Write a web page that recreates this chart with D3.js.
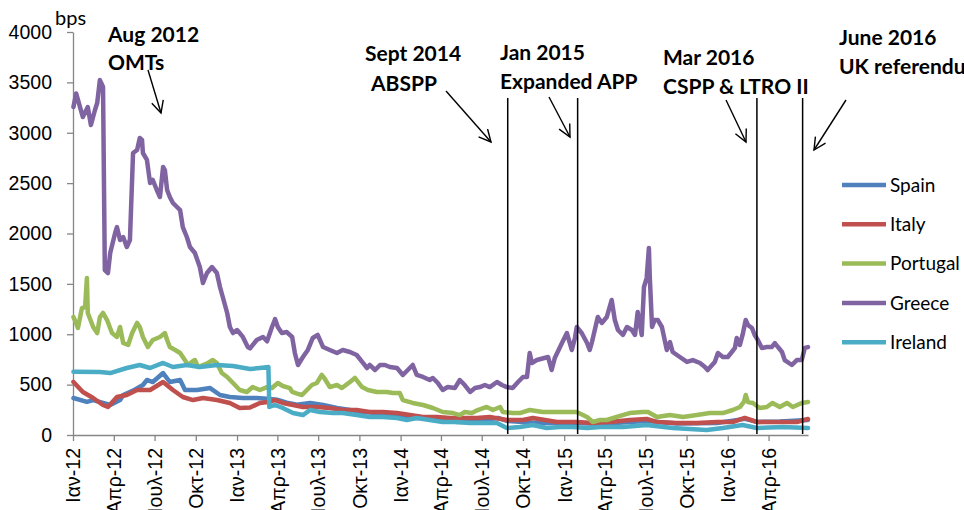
<!DOCTYPE html>
<html lang="el">
<head>
<meta charset="UTF-8">
<title>Spreads vs Bund, 2012-2016</title>
<script src="https://d3js.org/d3.v7.min.js"></script>
<style>
  body { margin: 0; background: #fff; }
  svg { font-family: Lato, "Open Sans", sans-serif; }
  .axis path, .axis line { stroke: #868686; stroke-width: 1.3; }
  .axis text { fill: #000; font-size: 19.5px; }
  .note { font-weight: bold; font-size: 21px; fill: #000; }
</style>
</head>
<body>
<div id="chart"></div>
<script>
// month abbreviations used for the x tick labels
const monthsGr = ['Ιαν','Φεβ','Μαρ','Απρ','Μαϊ','Ιουν','Ιουλ','Αυγ','Σεπ','Οκτ','Νοε','Δεκ'];
const yTicks = [0, 500, 1000, 1500, 2000, 2500, 3000, 3500, 4000];
const countries = ['Spain', 'Italy', 'Portugal', 'Greece', 'Ireland'];
const colors = ['#4F81BD', '#C0504D', '#9BBB59', '#8064A2', '#4BACC6'];

// spreads in bps
const spain = [["2012-01-02",367],["2012-02-01",328],["2012-02-15",347],["2012-03-08",318],["2012-03-24",298],["2012-04-15",347],["2012-04-22",397],["2012-05-14",440],["2012-06-05",496],["2012-06-14",546],["2012-06-27",526],["2012-07-20",615],["2012-08-04",526],["2012-08-27",546],["2012-09-07",447],["2012-10-04",447],["2012-11-02",466],["2012-11-24",397],["2012-12-16",377],["2013-01-14",367],["2013-02-14",367],["2013-03-09",360],["2013-03-31",350],["2013-04-22",320],["2013-05-15",300],["2013-06-13",318],["2013-07-12",298],["2013-08-12",268],["2013-09-10",248],["2013-10-09",228],["2013-11-09",218],["2013-12-08",198],["2014-01-06",179],["2014-02-06",169],["2014-03-07",169],["2014-04-05",149],["2014-05-07",129],["2014-06-05",129],["2014-07-04",149],["2014-08-06",169],["2014-08-26",140],["2014-10-01",130],["2014-11-08",120],["2014-12-16",119],["2015-01-29",119],["2015-03-22",110],["2015-05-27",130],["2015-07-04",140],["2015-09-09",115],["2015-12-08",120],["2016-02-08",160],["2016-03-06",130],["2016-04-26",135],["2016-06-28",150]];

const italy = [["2012-01-02",526],["2012-01-23",427],["2012-02-15",367],["2012-03-08",298],["2012-03-19",278],["2012-04-08",377],["2012-04-30",397],["2012-05-23",447],["2012-06-21",447],["2012-07-20",526],["2012-08-11",447],["2012-09-02",377],["2012-09-25",347],["2012-10-17",367],["2012-11-17",347],["2012-12-16",318],["2013-01-07",268],["2013-01-30",273],["2013-02-21",318],["2013-03-11",328],["2013-03-27",347],["2013-04-13",318],["2013-05-06",298],["2013-05-28",278],["2013-06-28",278],["2013-07-27",268],["2013-08-25",248],["2013-09-25",248],["2013-10-24",228],["2013-11-22",228],["2013-12-24",218],["2014-01-22",198],["2014-02-20",179],["2014-03-23",179],["2014-04-21",169],["2014-05-20",169],["2014-06-20",169],["2014-07-19",179],["2014-08-26",149],["2014-10-01",149],["2014-10-23",169],["2014-12-16",129],["2015-01-29",129],["2015-03-06",119],["2015-04-13",129],["2015-05-27",149],["2015-07-04",159],["2015-07-27",129],["2015-09-09",119],["2015-10-24",119],["2015-12-08",129],["2016-01-12",129],["2016-02-08",169],["2016-03-06",129],["2016-04-19",129],["2016-06-03",129],["2016-06-28",159]];

const portugal = [["2012-01-02",1171],["2012-01-05",1141],["2012-01-12",1062],["2012-01-21",1260],["2012-01-28",1270],["2012-02-01",1558],["2012-02-03",1211],["2012-02-15",1072],["2012-02-24",1012],["2012-03-01",1171],["2012-03-08",1211],["2012-03-17",1141],["2012-03-28",1012],["2012-04-08",973],["2012-04-15",1072],["2012-04-22",913],["2012-05-03",893],["2012-05-12",1012],["2012-05-23",1112],["2012-05-29",1072],["2012-06-05",973],["2012-06-16",873],["2012-06-27",943],["2012-07-13",973],["2012-07-24",1012],["2012-07-29",943],["2012-08-04",873],["2012-08-16",844],["2012-08-27",814],["2012-09-02",774],["2012-09-14",695],["2012-09-22",725],["2012-09-29",744],["2012-10-06",675],["2012-10-17",695],["2012-10-28",715],["2012-11-08",744],["2012-11-17",715],["2012-11-28",615],["2012-12-10",576],["2012-12-23",516],["2013-01-07",447],["2013-01-23",427],["2013-02-05",476],["2013-02-21",447],["2013-03-09",476],["2013-03-20",466],["2013-04-02",516],["2013-04-13",486],["2013-04-29",466],["2013-05-04",427],["2013-05-15",410],["2013-05-26",397],["2013-06-06",447],["2013-06-17",496],["2013-06-28",516],["2013-07-09",596],["2013-07-16",556],["2013-07-27",476],["2013-08-12",496],["2013-08-23",466],["2013-09-10",526],["2013-09-21",566],["2013-10-07",476],["2013-10-20",447],["2013-11-09",427],["2013-12-01",427],["2013-12-15",417],["2013-12-30",417],["2014-01-06",347],["2014-01-28",318],["2014-02-20",298],["2014-03-14",268],["2014-04-05",228],["2014-04-28",218],["2014-05-13",198],["2014-05-24",228],["2014-06-09",218],["2014-06-22",248],["2014-07-12",278],["2014-07-26",248],["2014-08-11",278],["2014-08-17",228],["2014-09-08",218],["2014-09-24",218],["2014-10-16",248],["2014-11-14",228],["2014-12-16",228],["2015-01-29",228],["2015-02-21",179],["2015-03-06",129],["2015-03-22",149],["2015-04-06",149],["2015-04-28",179],["2015-05-27",218],["2015-06-25",228],["2015-07-07",228],["2015-07-27",179],["2015-08-25",198],["2015-09-23",179],["2015-10-24",198],["2015-11-22",218],["2015-12-21",218],["2016-01-12",248],["2016-01-28",278],["2016-02-06",328],["2016-02-10",397],["2016-02-15",328],["2016-02-26",318],["2016-03-12",268],["2016-03-28",278],["2016-04-10",318],["2016-04-26",278],["2016-05-12",318],["2016-05-25",278],["2016-06-14",318],["2016-06-28",328]];

const greece = [["2012-01-02",3255],["2012-01-08",3390],["2012-01-17",3250],["2012-01-23",3156],["2012-02-03",3255],["2012-02-10",3077],["2012-02-19",3226],["2012-02-24",3295],["2012-03-01",3523],["2012-03-06",3474],["2012-03-08",3454],["2012-03-12",1637],["2012-03-19",1608],["2012-03-24",1806],["2012-04-04",2005],["2012-04-08",2064],["2012-04-15",1935],["2012-04-22",1965],["2012-04-30",1866],["2012-05-07",1935],["2012-05-14",2799],["2012-05-23",2829],["2012-05-29",2948],["2012-06-03",2928],["2012-06-05",2799],["2012-06-14",2730],["2012-06-21",2501],["2012-06-27",2531],["2012-07-06",2432],["2012-07-13",2362],["2012-07-20",2660],["2012-07-24",2630],["2012-07-29",2432],["2012-08-04",2362],["2012-08-11",2303],["2012-08-20",2263],["2012-08-27",2233],["2012-09-02",2064],["2012-09-11",1965],["2012-09-18",1866],["2012-09-29",1806],["2012-10-10",1667],["2012-10-17",1509],["2012-10-26",1608],["2012-11-06",1667],["2012-11-17",1608],["2012-11-24",1469],["2012-12-10",1211],["2012-12-16",1072],["2012-12-23",1012],["2013-01-01",1042],["2013-01-07",1012],["2013-01-14",973],["2013-01-25",873],["2013-01-30",860],["2013-02-14",943],["2013-02-28",973],["2013-03-09",930],["2013-03-20",1072],["2013-03-27",1150],["2013-04-02",1072],["2013-04-11",1012],["2013-04-22",1022],["2013-05-04",973],["2013-05-10",814],["2013-05-17",695],["2013-05-28",774],["2013-06-08",844],["2013-06-19",963],["2013-06-30",993],["2013-07-12",873],["2013-07-27",844],["2013-08-12",814],["2013-08-25",844],["2013-09-10",824],["2013-09-25",794],["2013-10-09",715],["2013-10-18",665],["2013-10-24",695],["2013-11-05",645],["2013-11-16",695],["2013-11-27",695],["2013-12-08",675],["2013-12-24",665],["2014-01-06",596],["2014-01-17",645],["2014-01-28",695],["2014-02-06",596],["2014-02-20",576],["2014-03-07",546],["2014-03-14",566],["2014-03-25",516],["2014-04-05",447],["2014-04-16",476],["2014-05-02",466],["2014-05-13",546],["2014-05-24",496],["2014-06-05",427],["2014-06-16",466],["2014-06-27",476],["2014-07-08",496],["2014-07-19",476],["2014-08-04",526],["2014-08-15",496],["2014-08-26",476],["2014-09-08",466],["2014-09-20",526],["2014-10-01",576],["2014-10-10",576],["2014-10-16",814],["2014-10-21",715],["2014-11-01",744],["2014-11-26",774],["2014-12-04",645],["2014-12-11",764],["2014-12-27",913],["2015-01-07",1012],["2015-01-18",844],["2015-01-25",963],["2015-01-29",1072],["2015-02-09",1012],["2015-02-21",913],["2015-02-27",844],["2015-03-04",923],["2015-03-17",1171],["2015-03-26",1112],["2015-04-06",1171],["2015-04-17",1340],["2015-04-24",1141],["2015-05-01",1042],["2015-05-12",993],["2015-05-21",1072],["2015-06-01",1042],["2015-06-08",993],["2015-06-14",1221],["2015-06-23",993],["2015-06-28",1469],["2015-07-04",1558],["2015-07-09",1856],["2015-07-11",1568],["2015-07-16",1072],["2015-07-22",1141],["2015-07-29",1141],["2015-08-07",1072],["2015-08-18",844],["2015-08-25",923],["2015-08-31",824],["2015-09-16",774],["2015-10-02",725],["2015-10-15",744],["2015-10-31",715],["2015-11-11",675],["2015-11-17",645],["2015-12-03",725],["2015-12-10",814],["2015-12-21",774],["2016-01-01",774],["2016-01-10",824],["2016-01-17",864],["2016-01-21",963],["2016-01-28",893],["2016-02-03",993],["2016-02-10",1141],["2016-02-15",1092],["2016-02-24",1062],["2016-03-01",993],["2016-03-08",943],["2016-03-17",864],["2016-03-28",873],["2016-04-08",873],["2016-04-15",913],["2016-04-22",873],["2016-05-01",824],["2016-05-07",744],["2016-05-23",695],["2016-06-03",744],["2016-06-14",744],["2016-06-21",864],["2016-06-28",873]];

const ireland = [["2012-01-02",628],["2012-03-01",625],["2012-03-24",615],["2012-04-30",665],["2012-05-29",695],["2012-06-21",665],["2012-07-20",715],["2012-08-11",675],["2012-09-11",695],["2012-10-10",675],["2012-11-17",695],["2012-12-23",685],["2013-01-30",655],["2013-02-21",665],["2013-03-12",675],["2013-03-14",278],["2013-03-27",298],["2013-04-13",268],["2013-05-06",218],["2013-05-28",198],["2013-06-13",248],["2013-07-05",228],["2013-08-03",218],["2013-08-25",218],["2013-09-25",198],["2013-10-24",179],["2013-11-22",179],["2013-12-24",169],["2014-01-15",149],["2014-02-06",169],["2014-03-07",149],["2014-04-05",129],["2014-05-07",129],["2014-06-05",119],["2014-07-04",119],["2014-08-04",119],["2014-08-26",69],["2014-09-24",79],["2014-10-23",99],["2014-11-23",69],["2014-12-22",79],["2015-01-20",79],["2015-02-21",69],["2015-03-22",79],["2015-05-12",79],["2015-07-04",99],["2015-08-31",69],["2015-11-15",50],["2015-12-21",69],["2016-02-03",99],["2016-03-06",69],["2016-05-03",79],["2016-06-28",69]];

const seriesValues = [spain, italy, portugal, greece, ireland];

// policy events (vertical lines)
const eventDates = ["2014-08-28", "2015-01-31", "2016-03-06", "2016-06-16"];

const parse = d3.timeParse('%Y-%m-%d');

const svg = d3.select('#chart').append('svg')
    .attr('width', 964)
    .attr('height', 510);

const x = d3.scaleTime()
    .domain([parse('2012-01-01'), parse('2016-06-28')])
    .range([73, 808]);

const y = d3.scaleLinear()
    .domain([0, 4000])
    .range([435, 32]);

// y axis
svg.append('g')
    .attr('class', 'axis')
    .attr('transform', 'translate(73,0)')
    .call(d3.axisLeft(y)
        .tickValues(yTicks)
        .tickFormat(d3.format('d'))
        .tickSize(6)
        .tickSizeOuter(0)
        .tickPadding(15));

// x axis, quarterly ticks with greek month names
svg.append('g')
    .attr('class', 'axis')
    .attr('transform', 'translate(0,435)')
    .call(d3.axisBottom(x)
        .ticks(d3.timeMonth.every(3))
        .tickSize(6)
        .tickSizeOuter(0)
        .tickFormat(d => monthsGr[d.getMonth()] + '-' + d3.timeFormat('%y')(d)))
    .selectAll('text')
    .attr('transform', 'rotate(-90)')
    .attr('text-anchor', 'end')
    .attr('x', -13)
    .attr('y', 0)
    .attr('dy', '0.35em');

svg.append('text')
    .attr('x', 55)
    .attr('y', 25)
    .attr('font-size', '20px')
    .text('bps');

// series lines
const line = d3.line()
    .x(d => x(parse(d[0])))
    .y(d => y(d[1]));

seriesValues.forEach((s, i) => {
    svg.append('path')
        .datum(s)
        .attr('d', line)
        .attr('fill', 'none')
        .attr('stroke', colors[i])
        .attr('stroke-width', 4.5)
        .attr('stroke-linejoin', 'round')
        .attr('stroke-linecap', 'round');
});

// event lines
svg.selectAll('.event')
    .data(eventDates)
    .enter().append('line')
    .attr('x1', d => x(parse(d)))
    .attr('x2', d => x(parse(d)))
    .attr('y1', 98)
    .attr('y2', 434)
    .attr('stroke', '#000')
    .attr('stroke-width', 1.5);

// annotations
svg.append('defs').append('marker')
    .attr('id', 'head')
    .attr('markerUnits', 'userSpaceOnUse')
    .attr('markerWidth', 16)
    .attr('markerHeight', 16)
    .attr('refX', 13)
    .attr('refY', 7)
    .attr('orient', 'auto')
    .append('path')
    .attr('d', 'M1,1 L13,7 L1,13')
    .attr('fill', 'none')
    .attr('stroke', '#000')
    .attr('stroke-width', 1.4);

const notes = [
    { lines: ['Aug 2012', 'OMTs'], x: [108, 108], y: [42, 70], arrow: [148, 70, 161, 113] },
    { lines: ['Sept 2014', 'ABSPP'], x: [365, 371], y: [61, 91], arrow: [446, 91, 491, 142] },
    { lines: ['Jan 2015', 'Expanded APP'], x: [500, 500], y: [60, 89], arrow: [549, 97, 570, 137] },
    { lines: ['Mar 2016', 'CSPP & LTRO II'], x: [663, 663], y: [65, 94], arrow: [726, 100, 746, 142] },
    { lines: ['June 2016', 'UK referendum'], x: [839, 839], y: [45, 74], arrow: [846, 100, 814, 150] }
];

notes.forEach(n => {
    n.lines.forEach((t, i) => {
        svg.append('text')
            .attr('class', 'note')
            .attr('x', n.x[i])
            .attr('y', n.y[i])
            .text(t);
    });
    svg.append('line')
        .attr('x1', n.arrow[0]).attr('y1', n.arrow[1])
        .attr('x2', n.arrow[2]).attr('y2', n.arrow[3])
        .attr('stroke', '#000')
        .attr('stroke-width', 1.4)
        .attr('marker-end', 'url(#head)');
});

// legend
const legend = svg.append('g').attr('transform', 'translate(842,185)');
countries.forEach((c, i) => {
    const row = legend.append('g').attr('transform', `translate(0,${i * 39.3})`);
    row.append('line')
        .attr('x1', 0).attr('x2', 44)
        .attr('stroke', colors[i])
        .attr('stroke-width', 4.5);
    row.append('text')
        .attr('x', 48)
        .attr('dy', '0.35em')
        .attr('font-size', '19px')
        .text(c);
});
</script>
</body>
</html>
